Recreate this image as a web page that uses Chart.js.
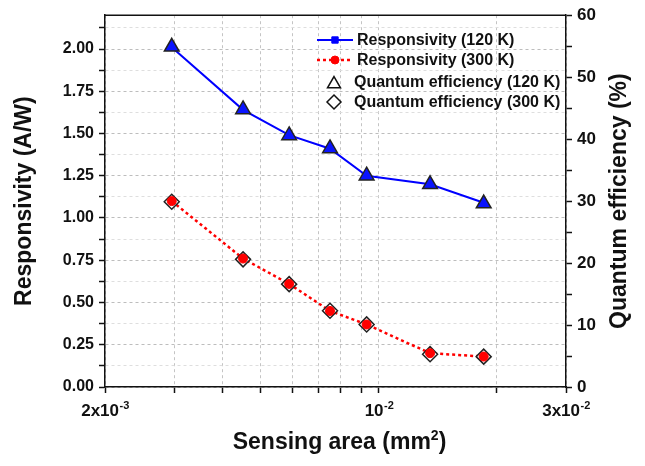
<!DOCTYPE html>
<html><head><meta charset="utf-8">
<script src="https://cdn.jsdelivr.net/npm/chart.js@4/dist/chart.umd.min.js"></script>
<style>html,body{margin:0;padding:0;background:#fff}#wrap{width:645px;height:466px;position:relative}</style>
</head><body><div id="wrap"><canvas id="c"></canvas></div>
<script>
// ---- data ----
const sensingArea = [0.00296, 0.0045, 0.0059, 0.0075, 0.0093, 0.0135, 0.0185]; // mm^2
const resp120 = [2.01, 1.64, 1.49, 1.41, 1.25, 1.20, 1.09];   // A/W
const resp300 = [1.10, 0.76, 0.61, 0.45, 0.37, 0.20, 0.18];   // A/W
const qe120 = [54.9, 44.8, 40.6, 38.5, 34.1, 32.7, 29.6];     // %
const qe300 = [29.9, 20.6, 16.6, 12.3, 10.1, 5.3, 4.9];       // %

const xTickValues = [0.002,0.003,0.004,0.005,0.006,0.007,0.008,0.009,0.01,0.02,0.03];
const xLabelValues = [0.002, 0.01, 0.03];
const xLabelBases = ['2x10', '10', '3x10'];
const xLabelExps = ['-3', '-2', '-2'];
const respTicks = [0,0.125,0.25,0.375,0.5,0.625,0.75,0.875,1,1.125,1.25,1.375,1.5,1.625,1.75,1.875,2,2.125];
const respLabels = [0,0.25,0.5,0.75,1,1.25,1.5,1.75,2];
const qeTicks = [0,5,10,15,20,25,30,35,40,45,50,55,60];
const qeLabels = [0,10,20,30,40,50,60];

const FONT = '"Liberation Sans", Arial, Helvetica, sans-serif';
const TXT = '#111';
Chart.defaults.font.family = FONT;
Chart.defaults.color = TXT;

const pts = (ys) => sensingArea.map((x, i) => ({x: x, y: ys[i]}));
const isIn = (arr, v) => arr.some(a => Math.abs(a - v) < 1e-9);

const decorPlugin = {
  id: 'decor',
  afterDraw(chart) {
    const ctx = chart.ctx, a = chart.chartArea;
    const xs = chart.scales.x;
    ctx.save();
    // top frame line
    ctx.strokeStyle = '#111'; ctx.lineWidth = 1.5;
    ctx.beginPath(); ctx.moveTo(a.left, a.top); ctx.lineTo(a.right, a.top); ctx.stroke();

    // x tick labels with superscripts
    ctx.fillStyle = TXT; ctx.textBaseline = 'alphabetic';
    for (let i = 0; i < xLabelValues.length; i++) {
      const px = xs.getPixelForValue(xLabelValues[i]);
      ctx.font = 'bold 17px ' + FONT;
      const wb = ctx.measureText(xLabelBases[i]).width;
      ctx.font = 'bold 11px ' + FONT;
      const we = ctx.measureText(xLabelExps[i]).width;
      const x0 = px - (wb + we) / 2;
      const by = a.bottom + 29;
      ctx.font = 'bold 17px ' + FONT; ctx.textAlign = 'left';
      ctx.fillText(xLabelBases[i], x0, by);
      ctx.font = 'bold 11px ' + FONT;
      ctx.fillText(xLabelExps[i], x0 + wb + 0.5, by - 7);
    }

    // axis titles
    const cy = (a.top + a.bottom) / 2;
    ctx.font = 'bold 23px ' + FONT; ctx.textAlign = 'center'; ctx.textBaseline = 'middle';
    ctx.save(); ctx.translate(25, cy); ctx.rotate(-Math.PI / 2);
    ctx.fillText('Responsivity (A/W)', 0, 0); ctx.restore();
    ctx.save(); ctx.translate(620, cy); ctx.rotate(-Math.PI / 2);
    ctx.fillText('Quantum efficiency (%)', 0, 0); ctx.restore();
    // x title with superscript 2
    const t1 = 'Sensing area (mm', t2 = '2', t3 = ')';
    ctx.font = 'bold 23px ' + FONT;
    const w1 = ctx.measureText(t1).width, w3 = ctx.measureText(t3).width;
    ctx.font = 'bold 14px ' + FONT;
    const w2 = ctx.measureText(t2).width;
    const cx = (a.left + a.right) / 2 + 4;
    let xx = cx - (w1 + w2 + w3) / 2;
    const ty = 449;
    ctx.textAlign = 'left'; ctx.textBaseline = 'alphabetic';
    ctx.font = 'bold 23px ' + FONT; ctx.fillText(t1, xx, ty); xx += w1;
    ctx.font = 'bold 14px ' + FONT; ctx.fillText(t2, xx, ty - 9); xx += w2;
    ctx.font = 'bold 23px ' + FONT; ctx.fillText(t3, xx, ty);

    // legend
    const ds = chart.data.datasets;
    const rows = ds.filter(d => d.legendRow !== undefined).sort((p, q) => p.legendRow - q.legendRow);
    const rowY = [40, 60, 82, 102];
    ctx.font = 'bold 16px ' + FONT; ctx.textBaseline = 'middle';
    rows.forEach((d, k) => {
      const y = rowY[k];
      if (d.legendKind === 'line') {
        ctx.save();
        ctx.strokeStyle = d.borderColor; ctx.lineWidth = d.borderWidth;
        ctx.setLineDash(d.borderDash || []);
        ctx.beginPath(); ctx.moveTo(317, y); ctx.lineTo(353, y); ctx.stroke();
        ctx.restore();
        ctx.fillStyle = d.borderColor; ctx.strokeStyle = d.borderColor; ctx.lineWidth = 1;
        Chart.helpers.drawPoint(ctx, {pointStyle: d.legendPoint, radius: d.legendPoint === 'rect' ? 4.5 : 4, rotation: 0, borderWidth: 1}, 335, y);
        ctx.fillStyle = TXT; ctx.textAlign = 'left';
        ctx.fillText(d.label, 357, y + 1);
      } else {
        ctx.fillStyle = '#fff'; ctx.strokeStyle = '#111'; ctx.lineWidth = 1.5;
        Chart.helpers.drawPoint(ctx, {pointStyle: d.pointStyle, radius: d.pointStyle === 'triangle' ? 7.5 : 7, rotation: 0, borderWidth: 1.5}, 334, y + (d.pointStyle === 'triangle' ? 2 : 0));
        ctx.fillStyle = TXT; ctx.textAlign = 'left';
        ctx.fillText(d.label, 354, y + 1);
      }
    });
    ctx.restore();
  }
};

new Chart(document.getElementById('c'), {
  type: 'line',
  data: {
    datasets: [
      { label: 'Responsivity (120 K)', data: pts(resp120), yAxisID: 'y', borderColor: '#0000ff', borderWidth: 2,
        pointRadius: 0, order: 10, legendRow: 0, legendKind: 'line', legendPoint: 'rect' },
      { label: 'Responsivity (300 K)', data: pts(resp300), yAxisID: 'y', borderColor: '#ff0000', borderWidth: 2.5,
        borderDash: [3, 3], pointRadius: 0, order: 9, legendRow: 1, legendKind: 'line', legendPoint: 'circle' },
      { label: 'Quantum efficiency (120 K)', data: pts(qe120), yAxisID: 'y1', showLine: false,
        pointStyle: 'triangle', pointRadius: 8.5, pointBackgroundColor: '#0a14ff', pointBorderColor: '#222',
        pointBorderWidth: 1.5, order: 8, legendRow: 2, legendKind: 'marker' },
      { label: 'Quantum efficiency (300 K)', data: pts(qe300), yAxisID: 'y1', showLine: false,
        pointStyle: 'rectRot', pointRadius: 7.5, pointBackgroundColor: '#ffffff', pointBorderColor: '#222',
        pointBorderWidth: 1.5, order: 7, legendRow: 3, legendKind: 'marker' },
      { label: 'Responsivity (300 K) markers', data: pts(resp300), yAxisID: 'y', showLine: false,
        pointStyle: 'circle', pointRadius: 4.5, pointBackgroundColor: '#ff0000', pointBorderColor: '#ff0000',
        pointBorderWidth: 1, order: 6 }
    ]
  },
  options: {
    responsive: true, maintainAspectRatio: false, animation: false, events: [],
    layout: { padding: { top: 15, left: 0, right: 0, bottom: 0 } },
    plugins: { legend: { display: false }, tooltip: { enabled: false } },
    scales: {
      x: {
        type: 'logarithmic', min: 0.002, max: 0.03,
        afterBuildTicks: s => { s.ticks = xTickValues.map(v => ({value: v})); },
        afterFit: s => { s.height = 79; },
        ticks: { autoSkip: false, maxRotation: 0, callback: () => '', font: { size: 16, weight: 'bold' } },
        grid: { color: '#c4c4c4', lineWidth: 1, tickColor: '#111', tickLength: 6, tickWidth: 1.5, tickBorderDash: [] },
        border: { color: '#111', width: 1.5, dash: [3, 3] }
      },
      y: {
        position: 'left', min: 0, max: 2.2,
        afterBuildTicks: s => { s.ticks = respTicks.map(v => ({value: v})); },
        afterFit: s => { s.width = 105; },
        ticks: { autoSkip: false, padding: 5, color: TXT, font: { size: 16, weight: 'bold' },
          callback: v => isIn(respLabels, v) ? Number(v).toFixed(2) : '' },
        grid: { color: c => (c.tick && isIn(respLabels, c.tick.value)) ? '#bdbdbd' : '#dedede',
          lineWidth: 1, tickColor: '#111', tickLength: 6, tickWidth: 1.5, tickBorderDash: [] },
        border: { color: '#111', width: 1.5, dash: [3, 3] }
      },
      y1: {
        position: 'right', min: 0, max: 60,
        afterBuildTicks: s => { s.ticks = qeTicks.map(v => ({value: v})); },
        afterFit: s => { s.width = 79; },
        ticks: { autoSkip: false, padding: 5, color: TXT, font: { size: 17, weight: 'bold' },
          callback: v => isIn(qeLabels, v) ? String(v) : '' },
        grid: { drawOnChartArea: false, tickColor: '#111', tickLength: 6, tickWidth: 1.5, tickBorderDash: [] },
        border: { color: '#111', width: 1.5 }
      }
    }
  },
  plugins: [decorPlugin]
});
</script>
</body></html>
